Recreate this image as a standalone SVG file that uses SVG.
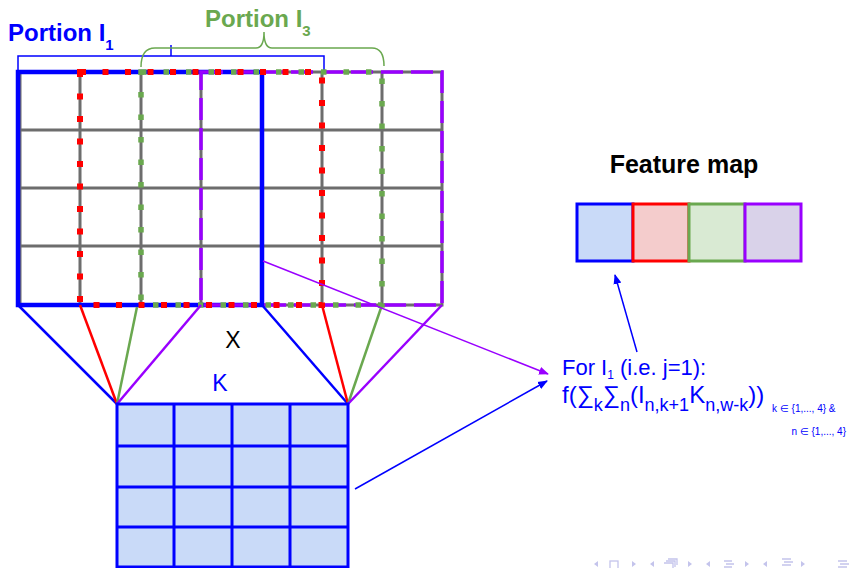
<svg xmlns="http://www.w3.org/2000/svg" width="853" height="568" viewBox="0 0 853 568">
<defs>
<style>
.grid{stroke:#6d6d6d;stroke-width:3;fill:none}
.blue{stroke:#0000ff}
.red{stroke:#ff0000}
.green{stroke:#6aa84f}
.purple{stroke:#9900ff}
.lbl{font-family:"Liberation Sans",Arial,sans-serif}
.kline{stroke:#0000ff;stroke-width:3;fill:none}
.conn{fill:none;stroke-width:2.5}
.nav{fill:none;stroke:#c4c4ec;stroke-width:1.3}
.navf{fill:#c4c4ec}
</style>
<marker id="ahP" viewBox="0 0 10 10" refX="9" refY="5" markerWidth="10" markerHeight="10" markerUnits="userSpaceOnUse" orient="auto"><path d="M0,1 L10,5 L0,9 z" fill="#9900ff"/></marker>
<marker id="ahB" viewBox="0 0 10 10" refX="9" refY="5" markerWidth="10" markerHeight="10" markerUnits="userSpaceOnUse" orient="auto"><path d="M0,1 L10,5 L0,9 z" fill="#0000ff"/></marker>
</defs>
<rect width="853" height="568" fill="#ffffff"/>

<g id="labels-top" class="lbl">
<text x="8" y="41" font-size="24" font-weight="bold" fill="#0000ff">Portion I<tspan font-size="15" dy="9">1</tspan></text>
<text x="205" y="27" font-size="24" font-weight="bold" fill="#6aa84f">Portion I<tspan font-size="15" dy="9">3</tspan></text>
<path d="M18,70 V56 H324 V70 M171,56 V45" fill="none" stroke="#0000ff" stroke-width="1.5"/>
<path d="M141,67 Q141,48 155,48 L256,48 Q264,48 264,32 Q264,48 272,48 L372,48 Q384,48 384,66" fill="none" stroke="#6aa84f" stroke-width="1.5"/>
</g>

<g id="input-grid">
<path class="grid" d="M20,72 H442 V305 H20 Z M20,130 H442 M20,188 H442 M20,246 H442 M80,72 V305 M141,72 V305 M201,72 V305 M262,72 V305 M322,72 V305 M382,72 V305"/>
</g>

<g id="portion-1"><rect x="18" y="72" width="244" height="233" fill="none" stroke="#0000ff" stroke-width="4.5"/></g>
<g id="portion-4"><rect x="201" y="72" width="241" height="233" fill="none" stroke="#9900ff" stroke-width="3.5" stroke-dasharray="22 8"/></g>
<g id="portion-3"><rect x="141" y="72" width="241" height="233" fill="none" stroke="#6aa84f" stroke-width="5.5" stroke-dasharray="5.5 17"/></g>
<g id="portion-2"><rect x="80" y="72" width="242" height="233" fill="none" stroke="#ff0000" stroke-width="6" stroke-dasharray="6 16.5"/></g>

<g id="connectors">
<line class="conn blue" x1="18" y1="305" x2="117" y2="404"/>
<line class="conn red" x1="80" y1="305" x2="117" y2="404"/>
<line class="conn green" x1="137" y1="307" x2="117" y2="404"/>
<line class="conn purple" x1="201" y1="305" x2="117" y2="404"/>
<line class="conn blue" x1="262" y1="305" x2="348" y2="404"/>
<line class="conn red" x1="322" y1="305" x2="348" y2="404"/>
<line class="conn green" x1="382" y1="305" x2="348" y2="404"/>
<line class="conn purple" x1="442" y1="305" x2="348" y2="404"/>
<line x1="263" y1="261" x2="548" y2="374" stroke="#9900ff" stroke-width="1.5" marker-end="url(#ahP)"/>
<line x1="355" y1="489" x2="547" y2="381" stroke="#0000ff" stroke-width="1.5" marker-end="url(#ahB)"/>
<line x1="637" y1="352" x2="615" y2="275" stroke="#0000ff" stroke-width="1.5" marker-end="url(#ahB)"/>
</g>

<g id="op-x"><text class="lbl" x="233" y="348" font-size="23" text-anchor="middle" fill="#000000">X</text></g>

<g id="kernel">
<text class="lbl" x="220" y="391" font-size="23" text-anchor="middle" fill="#0000ff">K</text>
<rect x="117" y="404" width="231" height="170" fill="#c9daf8"/>
<path class="kline" d="M117,574 V404 H348 V574 M117,446 H348 M117,487 H348 M117,527 H348 M117,567 H348 M174,404 V574 M232,404 V574 M290,404 V574"/>
</g>

<g id="feature-map">
<text class="lbl" x="684" y="173" font-size="25" font-weight="bold" text-anchor="middle" fill="#000000">Feature map</text>
<rect x="577" y="204" width="56" height="57" fill="#c9daf8" stroke="#0000ff" stroke-width="3"/>
<rect x="633" y="204" width="56" height="57" fill="#f4cccc" stroke="#ff0000" stroke-width="3"/>
<rect x="689" y="204" width="56" height="57" fill="#d9ead3" stroke="#6aa84f" stroke-width="3"/>
<rect x="745" y="204" width="56" height="57" fill="#d9d2e9" stroke="#9900ff" stroke-width="3"/>
</g>

<g id="formula" class="lbl" fill="#0000ff">
<text x="562" y="375" font-size="22">For I<tspan font-size="12" dy="4">1</tspan><tspan dy="-4"> (i.e. j=1):</tspan></text>
<text x="562" y="403" font-size="24">f(∑<tspan font-size="18" dy="8">k</tspan><tspan dy="-8">∑</tspan><tspan font-size="18" dy="8">n</tspan><tspan dy="-8">(I</tspan><tspan font-size="18" dy="8">n,k+1</tspan><tspan dy="-8">K</tspan><tspan font-size="18" dy="8">n,w-k</tspan><tspan dy="-8">))</tspan></text>
<text x="772" y="412" font-size="10">k ∈ {1,..., 4} &amp;</text>
<text x="846" y="435" font-size="10" text-anchor="end">n ∈ {1,..., 4}</text>
</g>

<g id="nav">
<path class="navf" d="M598,561 L594,564 L598,567 Z M632,561 L636,564 L632,567 Z M654,561 L650,564 L654,567 Z M688,561 L692,564 L688,567 Z M710,561 L706,564 L710,567 Z M745,561 L749,564 L745,567 Z M767,561 L763,564 L767,567 Z M801,561 L805,564 L801,567 Z"/>
<rect class="nav" x="610" y="561" width="8" height="8"/>
<path class="nav" d="M664,563 h9 v6 M666,561 h9 v6 M668,559 h9 v6"/>
<path class="nav" d="M724,561 h8 M726,564 h8 M724,567 h8 M782,559 h9 M784,562 h9 M782,565 h9 M838,561 h9 M840,564 h9 M838,567 h9"/>
</g>
</svg>
